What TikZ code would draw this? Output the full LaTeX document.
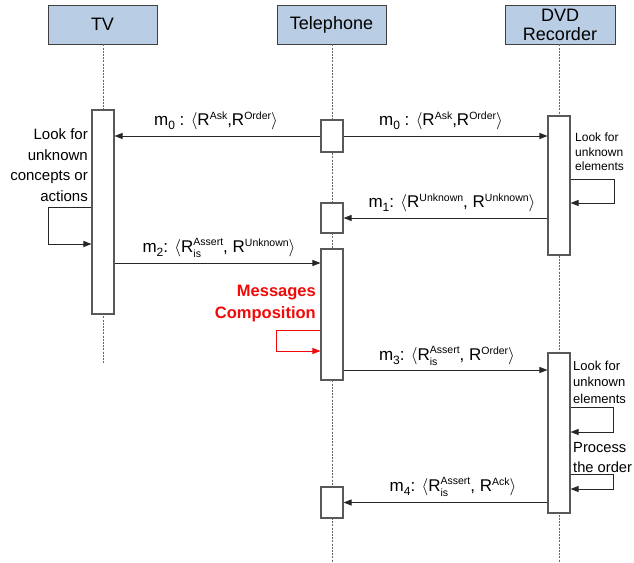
\documentclass[tikz,border=0pt]{standalone}
\usepackage{fontspec}
\setmainfont{Liberation Sans}
\usetikzlibrary{arrows.meta}
\definecolor{hdrblue}{RGB}{185,205,228}
\definecolor{msgred}{RGB}{240,10,10}
\newcommand{\scr}{\fontsize{10.5}{10.5}\selectfont}
\newcommand{\msub}[1]{\raisebox{-3.5pt}{\fontsize{12}{12}\selectfont #1}}
\newcommand{\sps}[1]{\raisebox{6.5pt}{\scr #1}}
\newsavebox{\supbox}
\newsavebox{\subbox}
\newlength{\ssw}
\newcommand{\RSS}[2]{R\sbox{\supbox}{\scr #1}\sbox{\subbox}{\scr #2}%
  \setlength{\ssw}{\wd\supbox}\ifdim\wd\subbox>\ssw\setlength{\ssw}{\wd\subbox}\fi
  \rlap{\raisebox{7.5pt}{\usebox{\supbox}}}\rlap{\raisebox{-5pt}{\usebox{\subbox}}}\hspace{\ssw}}
\newcommand{\la}{$\langle$}
\newcommand{\ra}{$\rangle$}
\begin{document}
\begin{tikzpicture}[x=1pt,y=-1pt,
  hdr/.style={draw=black!75, line width=0.9pt, fill=hdrblue, minimum width=109pt, minimum height=39pt, inner sep=0pt, font=\fontsize{18}{20}\selectfont, align=center},
  act/.style={draw=black!65, fill=white, line width=1.1pt, inner sep=0pt, minimum width=22pt},
  life/.style={draw=black!60, dash pattern=on 2pt off 1.2pt, line width=0.8pt},
  msg/.style={-{Triangle[length=8pt,width=6pt]}, line width=0.9pt, draw=black!85},
  lbl/.style={inner sep=0pt, font=\fontsize{17}{17}\selectfont},
  note/.style={inner sep=0pt},
]
\fill[white] (0,0) rectangle (634,562);
\useasboundingbox (0,0) rectangle (634,562);

% headers
\node[hdr] (tv)  at (102.5,24.5) {TV};
\node[hdr] (tel) at (331.5,24.5) {Telephone};
\node[hdr, minimum width=110pt] (dvd) at (560,24.5) {DVD\\[-1pt]Recorder};

% lifeline ends
\coordinate (tvEnd)  at (103,363);
\coordinate (telEnd) at (332,562);
\coordinate (dvdEnd) at (559,562);
\draw[life] (tv.south -| tvEnd) -- (tvEnd);
\draw[life] (tel.south -| telEnd) -- (telEnd);
\draw[life] (dvd.south -| dvdEnd) -- (dvdEnd);

% activation boxes
\node[act, minimum height=204pt] (tvA) at (103,212) {};
\node[act, minimum height=32pt]  (t1)  at (332,136) {};
\node[act, minimum height=30pt]  (t2)  at (332,218) {};
\node[act, minimum height=131pt] (t3)  at (332,314.5) {};
\node[act, minimum height=31pt]  (t4)  at (332,502.5) {};
\node[act, minimum height=139pt] (d1)  at (559,185.5) {};
\node[act, minimum height=160pt] (d2)  at (559,433) {};

% y levels
\coordinate (ym2) at (0,263);
\coordinate (ym3) at (0,370);
\coordinate (yl1) at (0,207);
\coordinate (yl2) at (0,244);
\coordinate (yd1) at (0,179);
\coordinate (yd2) at (0,203);
\coordinate (yr1) at (0,330);
\coordinate (yr2) at (0,351);
\coordinate (ye1) at (0,407);
\coordinate (ye2) at (0,432);
\coordinate (yf1) at (0,474);
\coordinate (yf2) at (0,489);

% messages
\draw[msg] (t1.west) -- (tvA.east |- t1.west);
\draw[msg] (t1.east) -- (d1.west |- t1.east);
\draw[msg] (d1.west |- t2.east) -- (t2.east);
\draw[msg] (tvA.east |- ym2) -- (t3.west |- ym2);
\draw[msg] (t3.east |- ym3) -- (d2.west |- ym3);
\draw[msg] (d2.west |- t4.east) -- (t4.east);

% self loops
\draw[msg] (tvA.west |- yl1) -- ++(-43,0) |- (tvA.west |- yl2);
\draw[msg] (d1.east |- yd1) -- ++(44,0) |- (d1.east |- yd2);
\draw[msg, draw=msgred] (t3.west |- yr1) -- ++(-44,0) |- (t3.west |- yr2);
\draw[msg] (d2.east |- ye1) -- ++(43,0) |- (d2.east |- ye2);
\draw[msg] (d2.east |- yf1) -- ++(43,0) |- (d2.east |- yf2);

% message labels
\node[lbl] (l0a) at (216,121) {m\msub{0} : \la R\sps{Ask},R\sps{Order}\ra};
\node[lbl] (l0b) at (441,121) {m\msub{0} : \la R\sps{Ask},R\sps{Order}\ra};
\node[lbl] (l1)  at (452,203) {m\msub{1}: \la R\sps{Unknown}, R\sps{Unknown}\ra};
\node[lbl] (l2)  at (219,248) {m\msub{2}: \la\RSS{Assert}{is}, R\sps{Unknown}\ra};
\node[lbl] (l3)  at (447,356) {m\msub{3}: \la\RSS{Assert}{is}, R\sps{Order}\ra};
\node[lbl] (l4)  at (453,487) {m\msub{4}: \la\RSS{Assert}{is}, R\sps{Ack}\ra};

% notes
\node[note, anchor=east, align=right, font=\fontsize{15}{20.7}\selectfont] (n1) at (88,165)
  {Look for\\unknown\\concepts or\\actions};
\node[note, anchor=west, align=left, font=\fontsize{12}{14.5}\selectfont] (n2) at (575,152)
  {Look for\\unknown\\elements};
\node[note, anchor=west, align=left, font=\fontsize{13}{16.5}\selectfont] (n3) at (573,382)
  {Look for\\unknown\\elements};
\node[note, anchor=west, align=left, font=\fontsize{14.7}{20}\selectfont] (n4) at (573,458)
  {Process\\the order};
\node[note, anchor=east, align=right, text=msgred, font=\bfseries\fontsize{16.5}{22}\selectfont] (n5) at (316,304)
  {Messages\\Composition};
\end{tikzpicture}
\end{document}
